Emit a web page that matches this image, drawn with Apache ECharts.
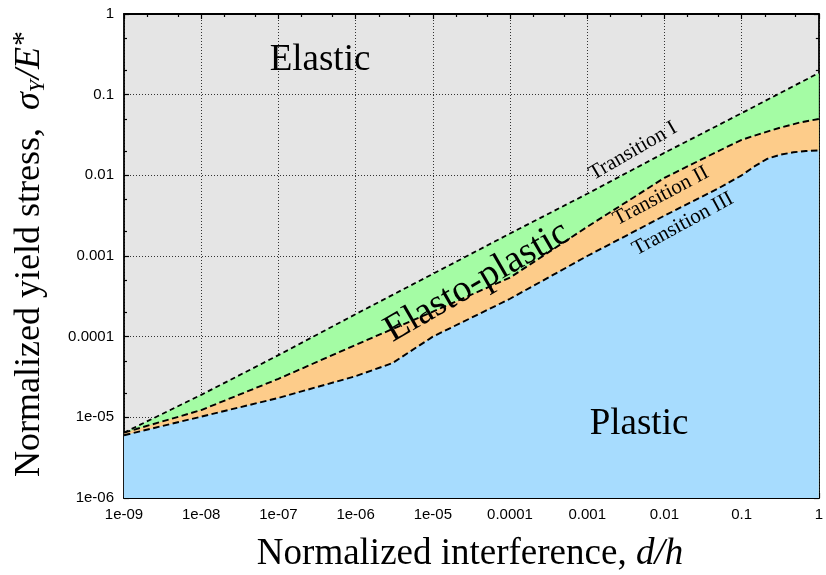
<!DOCTYPE html>
<html>
<head>
<meta charset="utf-8">
<script src="https://cdn.jsdelivr.net/npm/echarts@6/dist/echarts.min.js"></script>
<style>html,body{margin:0;padding:0;background:#fff}#c{width:826px;height:575px}</style>
</head>
<body>
<div id="c"></div>
<script>
// ---- data ----
const xTickLabels = ['1e-09','1e-08','1e-07','1e-06','1e-05','0.0001','0.001','0.01','0.1','1'];
const yTickLabels = ['1e-06','1e-05','0.0001','0.001','0.01','0.1','1'];

const transIX = [1e-9, 1e-8, 1e-7, 1e-6, 1e-5, 1e-4, 1e-3, 1e-2, 1e-1, 1];
const transIY = [6.46e-6, 1.9e-5, 5.9e-5, 1.9e-4, 6.0e-4, 1.9e-3, 5.9e-3, 1.9e-2, 5.9e-2, 0.186];

const transIIX = [1e-9, 1e-8, 1e-7, 1e-6, 1e-5, 1e-4, 1e-3, 1e-2, 5e-2, 1e-1, 1.78e-1, 3.16e-1, 5.6e-1, 1];
const transIIY = [6.46e-6, 1.23e-5, 3.0e-5, 7.9e-5, 2.04e-4, 5.4e-4, 2.3e-3, 9.3e-3, 2.0e-2, 2.75e-2, 3.3e-2, 3.9e-2, 4.5e-2, 5.0e-2];

const transIIIX = [1e-9, 1e-8, 1e-7, 1e-6, 3e-6, 1e-5, 1e-4, 1e-3, 1e-2, 5e-2, 1e-1, 1.48e-1, 2.14e-1, 3.16e-1, 4.68e-1, 6.8e-1, 1];
const transIIIY = [6.0e-6, 1.02e-5, 1.74e-5, 3.24e-5, 4.7e-5, 1.0e-4, 2.95e-4, 1.0e-3, 3.16e-3, 6.9e-3, 1.0e-2, 1.3e-2, 1.6e-2, 1.8e-2, 1.93e-2, 2.0e-2, 2.04e-2];

const xMinorTicks = [];
for (let e = -9; e < 0; e++) { xMinorTicks.push(2 * Math.pow(10, e), 5 * Math.pow(10, e)); }
const yMinorTicks = [];
for (let e = -6; e < 0; e++) { yMinorTicks.push(2 * Math.pow(10, e), 5 * Math.pow(10, e)); }

const pairs = (xs, ys) => xs.map((x, i) => [x, ys[i]]);

const colGrey = '#e5e5e5', colGreen = '#a4fca4', colOrange = '#fdcc8a', colBlue = '#a7dcfe';
const serif = '"Liberation Serif", "DejaVu Serif", serif';
const sans = '"Liberation Sans", Arial, Helvetica, sans-serif';

function lbl(arr, minExp) {
  return function (v) {
    const e = Math.round(Math.log10(v));
    return arr[e - minExp] || '';
  };
}

const chart = echarts.init(document.getElementById('c'), null, { renderer: 'canvas' });

const gridSplit = { show: true, lineStyle: { color: '#333', width: 1, type: [1, 2] } };
const frameLine = { show: true, onZero: false, lineStyle: { color: '#000', width: 1.8 } };

function baseAxis(extra) {
  return Object.assign({
    type: 'log', logBase: 10, gridIndex: 0,
    axisLine: { show: false },
    axisTick: { show: false },
    axisLabel: { show: false },
    splitLine: { show: false },
    minorTick: { show: false },
    minorSplitLine: { show: false }
  }, extra);
}

const option = {
  animation: false,
  backgroundColor: '#fff',
  grid: { left: 124, right: 5, top: 14, bottom: 77, show: true, backgroundColor: colGrey, borderWidth: 0 },
  xAxis: [
    baseAxis({
      position: 'bottom', min: 1e-9, max: 1, interval: 1,
      axisLine: frameLine,
      axisTick: { show: true, inside: true, length: 5, lineStyle: { color: '#000', width: 1.2 } },
      axisLabel: { show: true, margin: 9, color: '#000', fontFamily: sans, fontSize: 15, formatter: lbl(xTickLabels, -9) },
      splitLine: gridSplit
    }),
    baseAxis({
      position: 'bottom', min: 1e-9, max: 1,
      axisTick: { show: true, inside: true, length: 3, customValues: xMinorTicks, lineStyle: { color: '#000', width: 1.2 } }
    }),
    baseAxis({
      position: 'top', min: 1e-9, max: 1, interval: 1,
      axisLine: frameLine,
      axisTick: { show: true, inside: true, length: 5, lineStyle: { color: '#000', width: 1.2 } }
    }),
    baseAxis({
      position: 'top', min: 1e-9, max: 1,
      axisTick: { show: true, inside: true, length: 3, customValues: xMinorTicks, lineStyle: { color: '#000', width: 1.2 } }
    })
  ],
  yAxis: [
    baseAxis({
      position: 'left', min: 1e-6, max: 1, interval: 1,
      axisLine: frameLine,
      axisTick: { show: true, inside: true, length: 5, lineStyle: { color: '#000', width: 1.2 } },
      axisLabel: { show: true, margin: 10, color: '#000', fontFamily: sans, fontSize: 15, formatter: lbl(yTickLabels, -6) },
      splitLine: gridSplit
    }),
    baseAxis({
      position: 'left', min: 1e-6, max: 1,
      axisTick: { show: true, inside: true, length: 3, customValues: yMinorTicks, lineStyle: { color: '#000', width: 1.2 } }
    }),
    baseAxis({
      position: 'right', min: 1e-6, max: 1, interval: 1,
      axisLine: frameLine,
      axisTick: { show: true, inside: true, length: 5, lineStyle: { color: '#000', width: 1.2 } }
    }),
    baseAxis({
      position: 'right', min: 1e-6, max: 1,
      axisTick: { show: true, inside: true, length: 3, customValues: yMinorTicks, lineStyle: { color: '#000', width: 1.2 } }
    })
  ],
  series: [
    { type: 'line', data: pairs(transIX, transIY), showSymbol: false, z: 2, silent: true,
      lineStyle: { width: 0 }, areaStyle: { color: colGreen, opacity: 1, origin: 'start' } },
    { type: 'line', data: pairs(transIIX, transIIY), showSymbol: false, z: 2, silent: true,
      lineStyle: { width: 0 }, areaStyle: { color: colOrange, opacity: 1, origin: 'start' } },
    { type: 'line', data: pairs(transIIIX, transIIIY), showSymbol: false, z: 2, silent: true,
      lineStyle: { width: 0 }, areaStyle: { color: colBlue, opacity: 1, origin: 'start' } },
    { type: 'line', name: 'Transition I', data: pairs(transIX, transIY), showSymbol: false, z: 4,
      lineStyle: { color: '#000', width: 1.8, type: [5, 3.5] } },
    { type: 'line', name: 'Transition II', data: pairs(transIIX, transIIY), showSymbol: false, z: 4,
      lineStyle: { color: '#000', width: 1.9, type: [6.5, 3.5] } },
    { type: 'line', name: 'Transition III', data: pairs(transIIIX, transIIIY), showSymbol: false, z: 4,
      lineStyle: { color: '#000', width: 1.9, type: [6.5, 3.5] } }
  ],
  graphic: [
    { type: 'text', x: 320, y: 60, z: 10, style: { text: 'Elastic', font: '37px ' + serif, fill: '#000', align: 'center', verticalAlign: 'middle' } },
    { type: 'text', x: 639, y: 424, z: 10, style: { text: 'Plastic', font: '37px ' + serif, fill: '#000', align: 'center', verticalAlign: 'middle' } },
    { type: 'text', x: 477, y: 282, rotation: 30 * Math.PI / 180, z: 10, style: { text: 'Elasto-plastic', font: '38px ' + serif, fill: '#000', align: 'center', verticalAlign: 'middle' } },
    { type: 'text', x: 633, y: 151, rotation: 30 * Math.PI / 180, z: 10, style: { text: 'Transition I', font: '21px ' + serif, fill: '#000', align: 'center', verticalAlign: 'middle' } },
    { type: 'text', x: 661, y: 196, rotation: 28 * Math.PI / 180, z: 10, style: { text: 'Transition II', font: '21px ' + serif, fill: '#000', align: 'center', verticalAlign: 'middle' } },
    { type: 'text', x: 683, y: 224, rotation: 28.5 * Math.PI / 180, z: 10, style: { text: 'Transition III', font: '21px ' + serif, fill: '#000', align: 'center', verticalAlign: 'middle' } },
    { type: 'text', x: 470, y: 554, z: 10, style: {
        text: 'Normalized interference, {i|d/h}', font: '37px ' + serif, fill: '#000', align: 'center', verticalAlign: 'middle',
        rich: { i: { fontFamily: serif, fontSize: 37, fontStyle: 'italic', fill: '#000' } } } },
    { type: 'text', x: 30, y: 254, rotation: Math.PI / 2, z: 10, style: {
        text: 'Normalized yield stress,  {i|σ}{sub|Y}{i|/E}{sup|*}', font: '36px ' + serif, fill: '#000', align: 'center', verticalAlign: 'middle', lineHeight: 42,
        rich: {
          i: { fontFamily: serif, fontSize: 36, fontStyle: 'italic', fill: '#000', lineHeight: 42 },
          sub: { fontFamily: serif, fontSize: 22, fontStyle: 'italic', fill: '#000', lineHeight: 42, verticalAlign: 'bottom', padding: [0, 1, 2, 0] },
          sup: { fontFamily: serif, fontSize: 30, fill: '#000', lineHeight: 42, verticalAlign: 'top', padding: [0, 0, 0, 1] }
        } } }
  ]
};
chart.setOption(option);
</script>
</body>
</html>
